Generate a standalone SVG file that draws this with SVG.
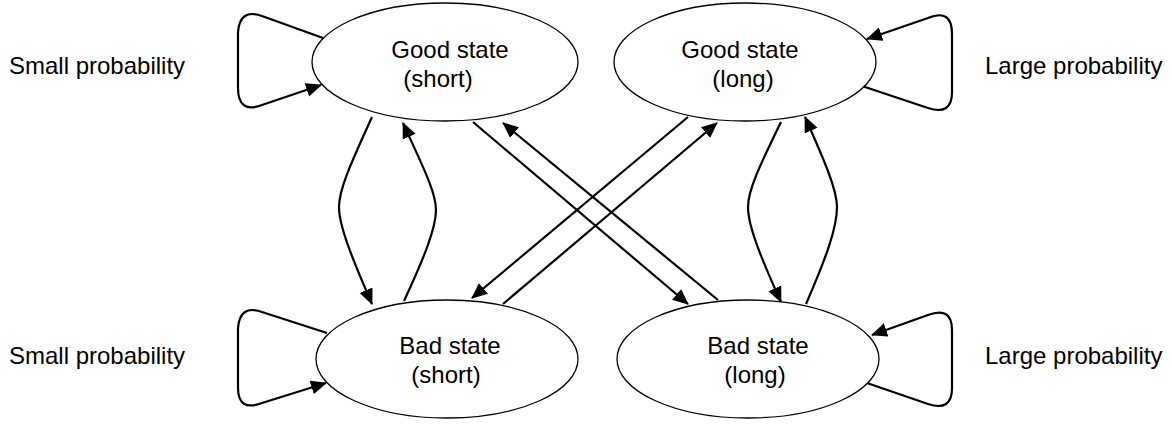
<svg xmlns="http://www.w3.org/2000/svg" width="1172" height="424" viewBox="0 0 1172 424">
<style>
.node{fill:#fff;stroke:#000;stroke-width:1.3}
.t{font-family:"Liberation Sans",Arial,sans-serif;font-size:24px;fill:#000;text-anchor:middle}
.lbl{font-family:"Liberation Sans",Arial,sans-serif;font-size:24px;fill:#000}
.c{fill:none;stroke:#000;stroke-width:2.2;marker-end:url(#ah)}
</style>
<defs>
<marker id="ah" markerUnits="userSpaceOnUse" markerWidth="18" markerHeight="16" refX="15" refY="7" orient="auto">
<path d="M0,0 L16,7 L0,14 z" fill="#000"/>
</marker>
</defs>
<g id="labels">
<text class="lbl" x="9" y="74">Small probability</text>
<text class="lbl" x="9" y="364">Small probability</text>
<text class="lbl" x="985" y="74">Large probability</text>
<text class="lbl" x="985" y="364">Large probability</text>
</g>
<g id="connectors">
<path class="c" d="M323,38 L262,16 Q240,8 238,32 L238,88 Q238,114 262,105 L321,85"/>
<path class="c" d="M862,86 L928,108 Q952,116 952,92 L952,34 Q952,8 928,18 L867,39"/>
<path class="c" d="M327,333 L262,312 Q240,304 238,328 L238,388 Q238,412 262,403 L326,383"/>
<path class="c" d="M867,383 L928,404 Q952,412 952,388 L952,330 Q952,306 928,315 L872,335"/>
<path class="c" d="M372,117 C350,165 339,190 339,207 C339,226 352,258 372,304"/>
<path class="c" d="M404,301 C424,258 436,228 436,210 C436,192 422,165 403,123"/>
<path class="c" d="M781,122 C760,165 748,190 748,207 C748,226 761,258 781,302"/>
<path class="c" d="M806,304 C826,258 837,228 837,207 C837,190 825,162 805,117"/>
<path class="c" d="M473,122 L688,304"/>
<path class="c" d="M718,300 L503,123"/>
<path class="c" d="M688,117 L472,298"/>
<path class="c" d="M503,304 L717,123"/>
</g>
<g id="good-short">
<ellipse class="node" cx="445" cy="62" rx="133" ry="59"/>
<text class="t" x="450" y="58">Good state</text>
<text class="t" x="438" y="87">(short)</text>
</g>
<g id="good-long">
<ellipse class="node" cx="745" cy="62" rx="131" ry="59"/>
<text class="t" x="740" y="58">Good state</text>
<text class="t" x="743" y="87">(long)</text>
</g>
<g id="bad-short">
<ellipse class="node" cx="447" cy="359" rx="131" ry="59"/>
<text class="t" x="450" y="354">Bad state</text>
<text class="t" x="446" y="383">(short)</text>
</g>
<g id="bad-long">
<ellipse class="node" cx="748" cy="359" rx="131" ry="59"/>
<text class="t" x="758" y="354">Bad state</text>
<text class="t" x="755" y="383">(long)</text>
</g>
</svg>
